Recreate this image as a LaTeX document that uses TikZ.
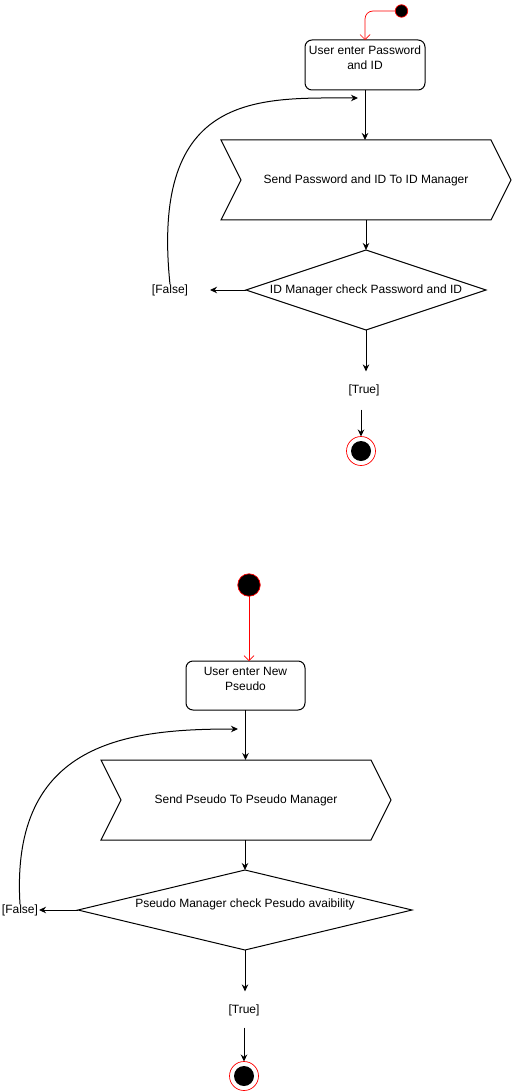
\documentclass[tikz,border=0pt]{standalone}
\usepackage{fontspec}
\setmainfont{Liberation Sans}
\usetikzlibrary{arrows.meta}

\begin{document}
\begin{tikzpicture}[x=1pt, y=-1pt, line width=1pt, >={Stealth[length=7pt, width=6.5pt]},
        font=\fontsize{12}{15}\selectfont,
        every node/.style={inner sep=1pt, outer sep=0pt, align=center},
        startdot/.style={circle, draw=red, fill=black, line width=0.7pt, inner sep=0pt},
        enddot/.style={circle, draw=red, line width=0.7pt, inner sep=0pt, minimum size=29pt,
            path picture={\fill[black] (path picture bounding box.center) circle (10pt);}},
        action/.style={draw, rounded corners=7pt, minimum width=120pt, minimum height=50pt, text depth=14pt},
        stepbox/.style={minimum width=290pt, minimum height=80pt},
        choice/.style={minimum height=80pt},
        guard/.style={inner sep=0pt},
        flow/.style={red, line width=0.7pt, -{Straight Barb[length=5pt, width=10pt]}}]
        \useasboundingbox (0,0) rectangle (511,1091);

        % password and ID
        \node[startdot, minimum size=12.5pt] (S1) at (401.5,11) {};
        \node[action] (U1) at (365,65) {User enter Password\\and ID};
        \node[stepbox] (P1) at (366,180) {Send Password and ID To ID Manager};
        \node[choice, minimum width=240pt] (C1) at (366,290) {ID Manager check Password and ID};
        \node[guard] (F1) at (170,290) {[False]};
        \node[guard] (T1) at (364,390) {[True]};
        \node[enddot] (E1) at (361,451) {};
        \coordinate (B1) at (358,98);

        \draw (P1.north west) -- ([xshift=-20pt]P1.north east) -- (P1.east)
            -- ([xshift=-20pt]P1.south east) -- (P1.south west) -- ([xshift=20pt]P1.west) -- cycle;
        \draw (C1.north) -- (C1.east) -- (C1.south) -- (C1.west) -- cycle;

        \draw[flow, rounded corners=8pt] (S1.west) -| (U1.north);
        \draw[->] (U1.south) -- (U1.south |- P1.north);
        \draw[->] (P1.south) -- (C1.north);
        \draw[->, shorten >=22pt] (C1.west) -- (F1.east);
        \draw[->] (F1.north) .. controls (150,90) and (260,98) .. (B1);
        \draw[->, shorten >=13pt] (C1.south) -- (C1.south |- T1.north);
        \draw[->, shorten <=14pt] (T1.south -| E1.north) -- (E1.north);

        % pseudo
        \node[startdot, minimum size=22.5pt] (S2) at (249,585) {};
        \node[action, minimum width=119pt, minimum height=49pt] (U2) at (245.5,685.5) {User enter New\\Pseudo};
        \node[stepbox] (P2) at (246,800) {Send Pseudo To Pseudo Manager};
        \node[choice, minimum width=334pt, text depth=14pt] (C2) at (245,910) {Pseudo Manager check Pesudo avaibility};
        \node[guard] (F2) at (20,910) {[False]};
        \node[guard] (T2) at (244,1010) {[True]};
        \node[enddot] (E2) at (244,1076) {};
        \coordinate (B2) at (238,729);

        \draw (P2.north west) -- ([xshift=-20pt]P2.north east) -- (P2.east)
            -- ([xshift=-20pt]P2.south east) -- (P2.south west) -- ([xshift=20pt]P2.west) -- cycle;
        \draw (C2.north) -- (C2.east) -- (C2.south) -- (C2.west) -- cycle;

        \draw[flow] (S2.south) -- (S2.south |- U2.north);
        \draw[->] (U2.south) -- (U2.south |- P2.north);
        \draw[->] (C2.north |- P2.south) -- (C2.north);
        \draw[->, shorten >=1pt] (C2.west) -- (F2.east);
        \draw[->] (F2.north) .. controls (10,740) and (130,729) .. (B2);
        \draw[->, shorten >=13pt] (C2.south) -- (C2.south |- T2.north);
        \draw[->, shorten <=12pt] (T2.south -| E2.north) -- (E2.north);
    \end{tikzpicture}
\end{document}
